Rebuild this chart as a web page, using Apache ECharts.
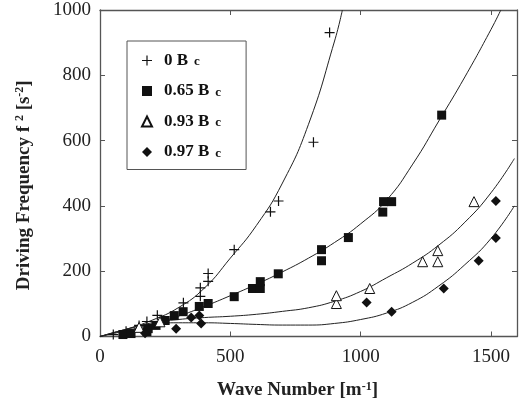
<!DOCTYPE html>
<html><head><meta charset="utf-8">
<script src="https://cdn.jsdelivr.net/npm/echarts@6/dist/echarts.min.js"></script>
<style>html,body{margin:0;padding:0;background:#fff}#c{width:525px;height:405px}</style>
</head><body><div id="c"></div>
<script>
// ---- data (wave number k [m^-1], f^2 [s^-2]) ----
const xTicks = [0, 500, 1000, 1500];
const yTicks = [0, 200, 400, 600, 800, 1000];
const seriesNames = ['0 Bc', '0.65 Bc', '0.93 Bc', '0.97 Bc'];

const pts0 = [[51,6],[100,16],[150,34],[180,46],[220,65],[320,103],[385,123],[385,149],[415,169],[415,193],[515,266],[654,382],[685,415],[819,595],[881,931]];
const pts65 = [[88,6],[119,9],[180,15],[185,24],[215,34],[250,49],[285,64],[319,76],[381,92],[415,101],[515,122],[585,147],[615,147],[615,168],[684,192],[850,232],[850,266],[953,303],[1085,381],[1088,413],[1119,413],[1311,678]];
const pts93 = [[150,28],[230,45],[907,101],[907,125],[1035,147],[1238,229],[1296,229],[1296,263],[1435,413]];
const pts97 = [[173,10],[292,24],[350,58],[381,64],[388,40],[1023,104],[1119,76],[1319,147],[1453,232],[1519,302],[1519,415]];

const fit0 = [[0,0],[100,22],[200,50],[300,88],[400,148],[500,240],[600,340],[700,470],[800,650],[900,905],[930,1000]];
const fit65 = [[0,0],[100,18],[200,38],[300,62],[400,92],[500,125],[600,160],[700,198],[800,240],[900,288],[1000,345],[1100,418],[1200,528],[1300,660],[1400,795],[1500,940],[1538,1000]];
const fit93 = [[0,0],[100,22],[200,42],[300,52],[400,58],[500,62],[600,68],[700,77],[800,88],[900,108],[1000,138],[1100,180],[1200,225],[1300,280],[1400,350],[1500,440],[1590,545]];
const fit97 = [[0,0],[100,22],[200,38],[300,42],[400,42],[500,40],[600,37],[700,35],[800,35],[900,40],[1000,52],[1100,72],[1200,105],[1300,155],[1400,220],[1500,300],[1590,400]];

const plusPath = 'path://M4.4,0H5.6V4.4H10V5.6H5.6V10H4.4V5.6H0V4.4H4.4Z';
const FONT = '"Liberation Serif","DejaVu Serif",serif';
const AX = '#555';

const chart = echarts.init(document.getElementById('c'), null, {renderer: 'canvas'});
function scatter(name, data, symbol, size, hollow) {
  return {
    name, type: 'scatter', data, symbol, symbolSize: size, z: 5,
    itemStyle: hollow ? {color: '#fff', borderColor: '#111', borderWidth: 1, opacity: 1} : {color: '#111', opacity: 1}
  };
}
function curve(data) {
  return {
    type: 'line', data, smooth: 0.5, showSymbol: false, silent: true, z: 3,
    lineStyle: {color: '#222', width: 1}, clip: true
  };
}
const legendRich = {
  b: {fontFamily: FONT, fontWeight: 'bold', fontSize: 17, color: '#111', lineHeight: 16, padding: [0, 0, 0, 7]},
  s: {fontFamily: FONT, fontWeight: 'bold', fontSize: 13, color: '#111', lineHeight: 10, verticalAlign: 'bottom', padding: [0, 0, 0, 6]}
};
const supStyle = {fontFamily: FONT, fontWeight: 'bold', fontSize: 12, color: '#222', lineHeight: 12, verticalAlign: 'top'};
const nameStyle = {fontFamily: FONT, fontWeight: 'bold', fontSize: 19, color: '#222', lineHeight: 20};
chart.setOption({
  animation: false,
  backgroundColor: '#fff',
  grid: {left: 100, right: 8, top: 10, bottom: 67, containLabel: false},
  legend: {
    orient: 'vertical', left: 127, top: 41,
    padding: [11, 25, 9, 14], itemGap: 13.5, itemWidth: 10, itemHeight: 10,
    borderColor: '#555', borderWidth: 1, backgroundColor: '#fff',
    data: seriesNames,
    formatter: n => '{b|' + n.slice(0, -1) + '}{s|' + n.slice(-1) + '}',
    textStyle: {rich: legendRich}
  },
  xAxis: [{
    type: 'value', min: 0, max: 1600, interval: 500, position: 'bottom',
    axisLine: {lineStyle: {color: AX, width: 1.3}},
    axisTick: {inside: true, length: 5, lineStyle: {color: AX}},
    splitLine: {show: false},
    axisLabel: {fontFamily: FONT, fontSize: 19, color: '#222', margin: 11, formatter: v => (xTicks.includes(v) ? String(v) : ''), showMaxLabel: false},
    name: '{a|Wave Number [m}{p|-1}{a|]}', nameLocation: 'middle', nameGap: 44,
    nameTextStyle: {padding: [0, 22, 0, 0], rich: {a: nameStyle, p: supStyle}}
  }, {
    type: 'value', min: 0, max: 1600, interval: 500, position: 'top',
    axisLine: {onZero: false, lineStyle: {color: AX, width: 1.3}},
    axisTick: {inside: true, length: 5, lineStyle: {color: AX}},
    axisLabel: {show: false}, splitLine: {show: false}
  }],
  yAxis: [{
    type: 'value', min: 0, max: 1000, interval: 200, position: 'left',
    axisLine: {show: true, lineStyle: {color: AX, width: 1.3}},
    axisTick: {show: true, inside: true, length: 5, lineStyle: {color: AX}},
    splitLine: {show: false},
    axisLabel: {fontFamily: FONT, fontSize: 19, color: '#222', margin: 9, formatter: v => (yTicks.includes(v) ? String(v) : '')},
    name: '{a|Driving Frequency f }{p|2}{a| [s}{p|-2}{a|]}', nameLocation: 'middle', nameGap: 66,
    nameTextStyle: {padding: [0, 24, 0, 0], rich: {a: nameStyle, p: supStyle}}
  }, {
    type: 'value', min: 0, max: 1000, interval: 200, position: 'right',
    axisLine: {show: true, onZero: false, lineStyle: {color: AX, width: 1.3}},
    axisTick: {show: true, inside: true, length: 5, lineStyle: {color: AX}},
    axisLabel: {show: false}, splitLine: {show: false}
  }],
  series: [
    curve(fit0), curve(fit65), curve(fit93), curve(fit97),
    scatter(seriesNames[0], pts0, plusPath, 10, false),
    scatter(seriesNames[1], pts65, 'rect', 9, false),
    scatter(seriesNames[2], pts93, 'triangle', 10, true),
    scatter(seriesNames[3], pts97, 'diamond', 10, false)
  ]
});
</script></body></html>
